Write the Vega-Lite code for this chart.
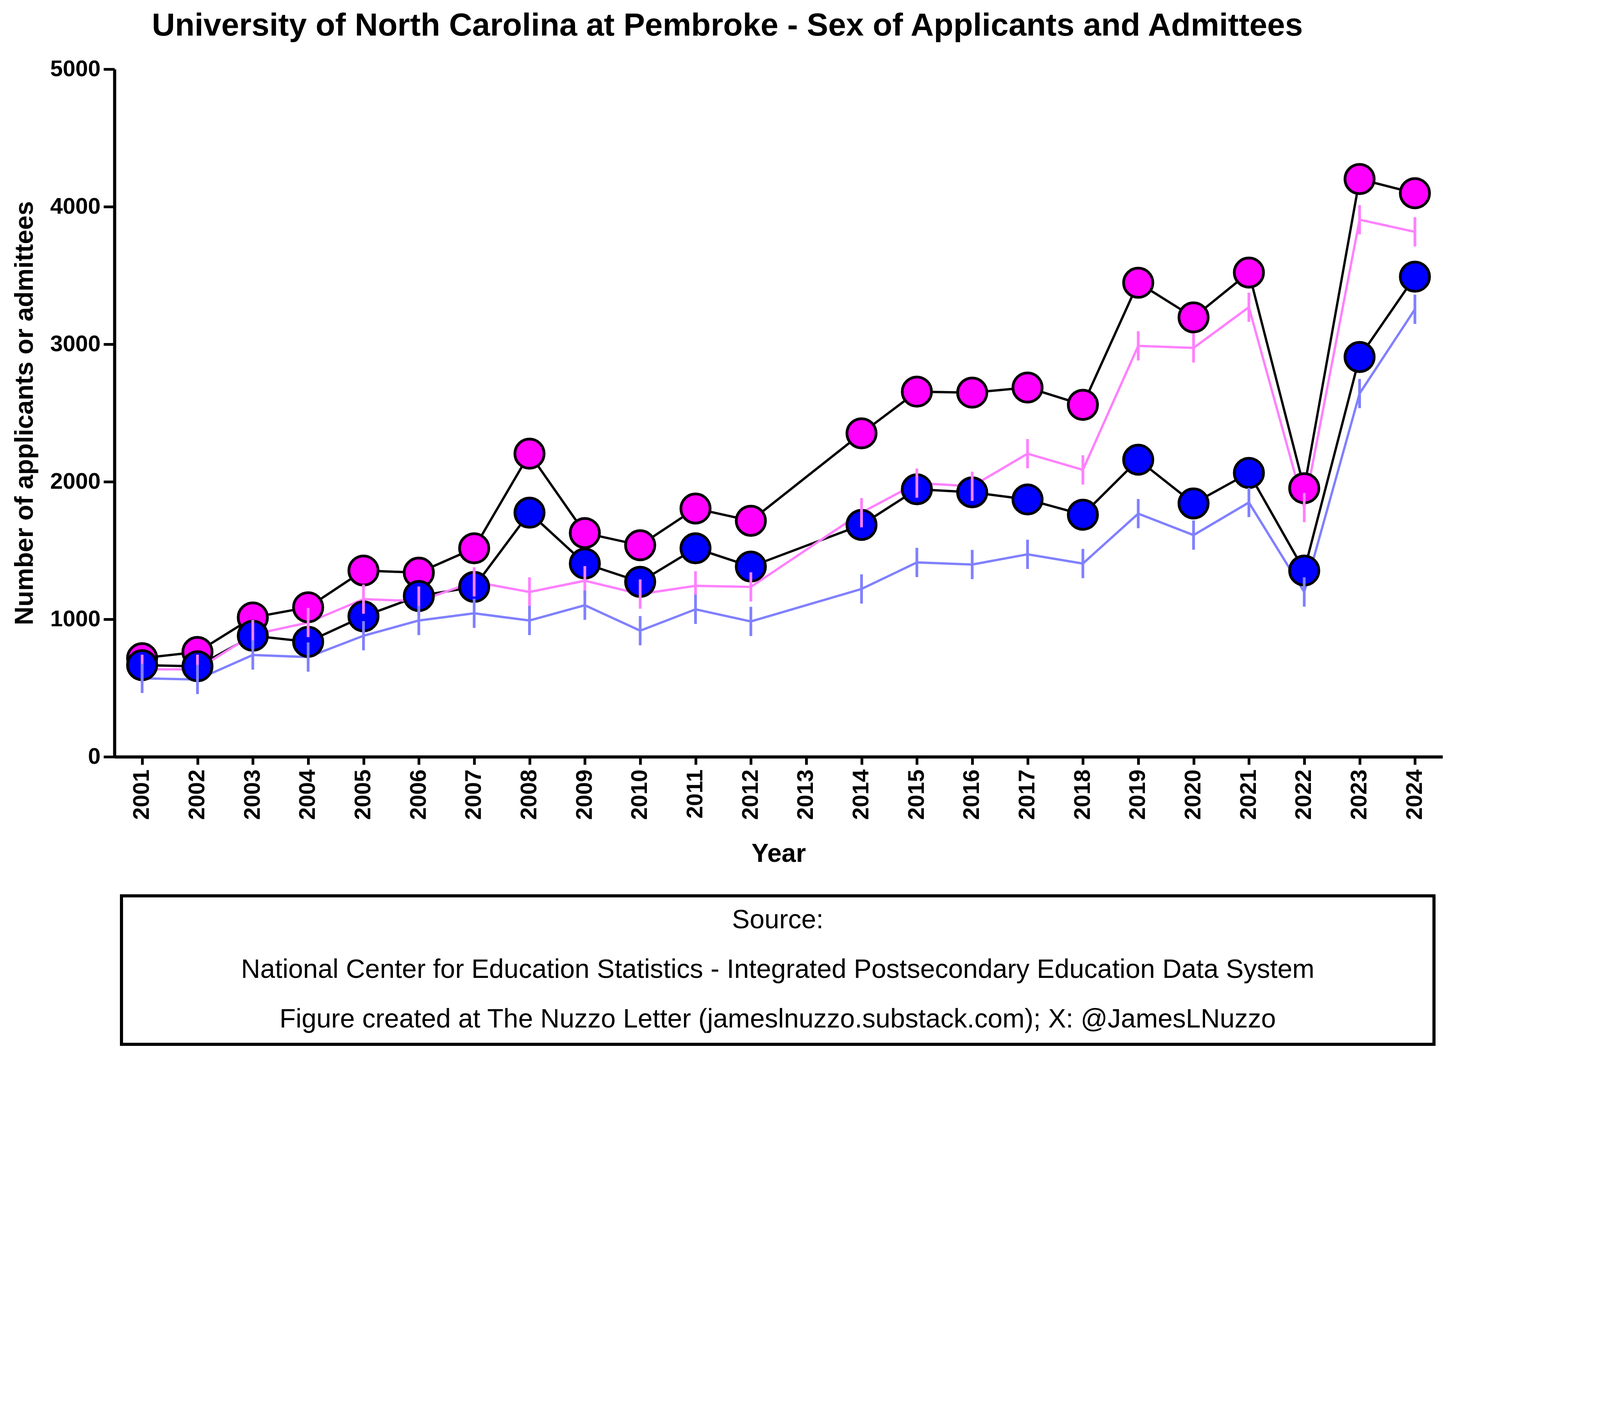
{
  "$schema": "https://vega.github.io/schema/vega-lite/v6.json",
  "background": "white",
  "padding": {"left": 30, "top": 25, "right": 30, "bottom": 25},
  "title": {"text": "University of North Carolina at Pembroke - Sex of Applicants and Admittees", "font": "Liberation Sans", "fontSize": 82, "fontWeight": "bold", "anchor": "middle", "offset": 40},
  "config": {"font": "Liberation Sans"},
  "datasets": {
    "main": [
      {"Year": "2001", "series": "Female applicants", "value": 717},
      {"Year": "2002", "series": "Female applicants", "value": 762},
      {"Year": "2003", "series": "Female applicants", "value": 1013},
      {"Year": "2004", "series": "Female applicants", "value": 1087},
      {"Year": "2005", "series": "Female applicants", "value": 1354},
      {"Year": "2006", "series": "Female applicants", "value": 1339},
      {"Year": "2007", "series": "Female applicants", "value": 1516},
      {"Year": "2008", "series": "Female applicants", "value": 2204},
      {"Year": "2009", "series": "Female applicants", "value": 1627},
      {"Year": "2010", "series": "Female applicants", "value": 1538},
      {"Year": "2011", "series": "Female applicants", "value": 1805},
      {"Year": "2012", "series": "Female applicants", "value": 1716},
      {"Year": "2014", "series": "Female applicants", "value": 2352},
      {"Year": "2015", "series": "Female applicants", "value": 2655},
      {"Year": "2016", "series": "Female applicants", "value": 2648},
      {"Year": "2017", "series": "Female applicants", "value": 2685},
      {"Year": "2018", "series": "Female applicants", "value": 2559},
      {"Year": "2019", "series": "Female applicants", "value": 3447},
      {"Year": "2020", "series": "Female applicants", "value": 3195},
      {"Year": "2021", "series": "Female applicants", "value": 3521},
      {"Year": "2022", "series": "Female applicants", "value": 1953},
      {"Year": "2023", "series": "Female applicants", "value": 4201},
      {"Year": "2024", "series": "Female applicants", "value": 4098},
      {"Year": "2001", "series": "Male applicants", "value": 666},
      {"Year": "2002", "series": "Male applicants", "value": 658},
      {"Year": "2003", "series": "Male applicants", "value": 880},
      {"Year": "2004", "series": "Male applicants", "value": 836},
      {"Year": "2005", "series": "Male applicants", "value": 1021},
      {"Year": "2006", "series": "Male applicants", "value": 1169},
      {"Year": "2007", "series": "Male applicants", "value": 1235},
      {"Year": "2008", "series": "Male applicants", "value": 1775},
      {"Year": "2009", "series": "Male applicants", "value": 1405},
      {"Year": "2010", "series": "Male applicants", "value": 1272},
      {"Year": "2011", "series": "Male applicants", "value": 1516},
      {"Year": "2012", "series": "Male applicants", "value": 1383},
      {"Year": "2014", "series": "Male applicants", "value": 1686},
      {"Year": "2015", "series": "Male applicants", "value": 1945},
      {"Year": "2016", "series": "Male applicants", "value": 1923},
      {"Year": "2017", "series": "Male applicants", "value": 1871},
      {"Year": "2018", "series": "Male applicants", "value": 1760},
      {"Year": "2019", "series": "Male applicants", "value": 2160},
      {"Year": "2020", "series": "Male applicants", "value": 1842},
      {"Year": "2021", "series": "Male applicants", "value": 2064},
      {"Year": "2022", "series": "Male applicants", "value": 1354},
      {"Year": "2023", "series": "Male applicants", "value": 2907},
      {"Year": "2024", "series": "Male applicants", "value": 3491},
      {"Year": "2001", "series": "Females admitted", "value": 636},
      {"Year": "2002", "series": "Females admitted", "value": 636},
      {"Year": "2003", "series": "Females admitted", "value": 888},
      {"Year": "2004", "series": "Females admitted", "value": 976},
      {"Year": "2005", "series": "Females admitted", "value": 1146},
      {"Year": "2006", "series": "Females admitted", "value": 1132},
      {"Year": "2007", "series": "Females admitted", "value": 1272},
      {"Year": "2008", "series": "Females admitted", "value": 1198},
      {"Year": "2009", "series": "Females admitted", "value": 1280},
      {"Year": "2010", "series": "Females admitted", "value": 1183},
      {"Year": "2011", "series": "Females admitted", "value": 1243},
      {"Year": "2012", "series": "Females admitted", "value": 1235},
      {"Year": "2014", "series": "Females admitted", "value": 1775},
      {"Year": "2015", "series": "Females admitted", "value": 1990},
      {"Year": "2016", "series": "Females admitted", "value": 1967},
      {"Year": "2017", "series": "Females admitted", "value": 2204},
      {"Year": "2018", "series": "Females admitted", "value": 2086},
      {"Year": "2019", "series": "Females admitted", "value": 2988},
      {"Year": "2020", "series": "Females admitted", "value": 2973},
      {"Year": "2021", "series": "Females admitted", "value": 3269},
      {"Year": "2022", "series": "Females admitted", "value": 1812},
      {"Year": "2023", "series": "Females admitted", "value": 3905},
      {"Year": "2024", "series": "Females admitted", "value": 3817},
      {"Year": "2001", "series": "Males admitted", "value": 570},
      {"Year": "2002", "series": "Males admitted", "value": 562},
      {"Year": "2003", "series": "Males admitted", "value": 740},
      {"Year": "2004", "series": "Males admitted", "value": 725},
      {"Year": "2005", "series": "Males admitted", "value": 880},
      {"Year": "2006", "series": "Males admitted", "value": 991},
      {"Year": "2007", "series": "Males admitted", "value": 1043},
      {"Year": "2008", "series": "Males admitted", "value": 991},
      {"Year": "2009", "series": "Males admitted", "value": 1102},
      {"Year": "2010", "series": "Males admitted", "value": 917},
      {"Year": "2011", "series": "Males admitted", "value": 1072},
      {"Year": "2012", "series": "Males admitted", "value": 984},
      {"Year": "2014", "series": "Males admitted", "value": 1220},
      {"Year": "2015", "series": "Males admitted", "value": 1413},
      {"Year": "2016", "series": "Males admitted", "value": 1398},
      {"Year": "2017", "series": "Males admitted", "value": 1472},
      {"Year": "2018", "series": "Males admitted", "value": 1405},
      {"Year": "2019", "series": "Males admitted", "value": 1768},
      {"Year": "2020", "series": "Males admitted", "value": 1612},
      {"Year": "2021", "series": "Males admitted", "value": 1849},
      {"Year": "2022", "series": "Males admitted", "value": 1198},
      {"Year": "2023", "series": "Males admitted", "value": 2641},
      {"Year": "2024", "series": "Males admitted", "value": 3254}
    ],
    "source": [
      {"line": 1, "text": "Source:"},
      {"line": 2, "text": "National Center for Education Statistics - Integrated Postsecondary Education Data System"},
      {"line": 3, "text": "Figure created at The Nuzzo Letter (jameslnuzzo.substack.com); X: @JamesLNuzzo"}
    ]
  },
  "vconcat": [
    {
      "width": 3400,
      "height": 1760,
      "view": {"stroke": null},
      "data": {"name": "main"},
      "encoding": {
        "x": {"field": "Year", "type": "ordinal",
          "scale": {"domain": ["2001","2002","2003","2004","2005","2006","2007","2008","2009","2010","2011","2012","2013","2014","2015","2016","2017","2018","2019","2020","2021","2022","2023","2024"], "paddingOuter": 0.4},
          "axis": {"title": "Year", "titleFontSize": 66, "titleFontWeight": "bold", "titlePadding": 55, "labelAngle": -90, "labelFontSize": 58, "labelFontWeight": "bold", "labelColor": "black", "domainWidth": 8, "domainColor": "black", "tickWidth": 7, "tickColor": "black", "tickSize": 20, "labelPadding": 12}},
        "y": {"field": "value", "type": "quantitative",
          "scale": {"domain": [0, 5000]},
          "axis": {"title": "Number of applicants or admittees", "titleFontSize": 66, "titleFontWeight": "bold", "titlePadding": 30, "values": [0, 1000, 2000, 3000, 4000, 5000], "format": "d", "labelLimit": 0, "labelFontSize": 58, "labelFontWeight": "bold", "labelColor": "black", "grid": false, "domainWidth": 8, "domainColor": "black", "tickWidth": 7, "tickColor": "black", "tickSize": 28, "labelPadding": 8}}
      },
      "layer": [
        {
          "mark": {"type": "line", "strokeWidth": 6},
          "encoding": {
            "detail": {"field": "series"},
            "stroke": {"field": "series", "type": "nominal", "legend": null,
              "scale": {"domain": ["Female applicants", "Male applicants", "Females admitted", "Males admitted"], "range": ["black", "black", "#ff80ff", "#8080ff"]}}
          }
        },
        {
          "mark": {"type": "point", "filled": false, "opacity": 1, "strokeWidth": 7, "size": 5600},
          "encoding": {
            "fill": {"field": "series", "type": "nominal",
              "scale": {"domain": ["Female applicants", "Male applicants", "Females admitted", "Males admitted"], "range": ["#ff00ff", "#0000ff", "transparent", "transparent"]},
              "legend": {"orient": "top-left", "offset": 20, "direction": "horizontal", "title": null, "labelFontSize": 62, "labelColor": "black", "symbolSize": 5600, "symbolStrokeWidth": 7, "strokeColor": "black", "padding": 40, "columnPadding": 90, "labelOffset": 25, "labelLimit": 0}},
            "shape": {"field": "series", "type": "nominal",
              "scale": {"domain": ["Female applicants", "Male applicants", "Females admitted", "Males admitted"], "range": ["circle", "circle", "M0,-1L0,1", "M0,-1L0,1"]}},
            "stroke": {"field": "series", "type": "nominal",
              "scale": {"domain": ["Female applicants", "Male applicants", "Females admitted", "Males admitted"], "range": ["black", "black", "#ff33ff", "#2222ff"]}}
          }
        }
      ]
    },
    {
      "width": 3360,
      "height": 380,
      "view": {"stroke": "black", "strokeWidth": 8},
      "data": {"name": "source"},
      "mark": {"type": "text", "fontSize": 68, "color": "black"},
      "encoding": {
        "y": {"field": "line", "type": "ordinal", "axis": null, "scale": {"paddingOuter": 0.2}},
        "text": {"field": "text"}
      }
    }
  ],
  "spacing": 70,
  "center": true
}
